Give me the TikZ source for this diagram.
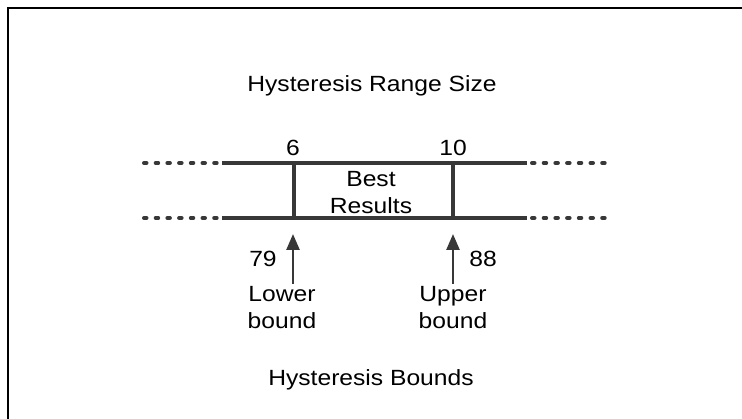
\documentclass[tikz,border=0pt]{standalone}
\usepackage{fontspec}
\setmainfont[FakeStretch=1.12]{Liberation Sans}
\usepackage{tikz}
\usetikzlibrary{arrows.meta}

\begin{document}
\begin{tikzpicture}[x=1pt,y=-1pt]
    \tikzstyle{txt} = [inner sep=0pt, align=center, font=\fontsize{22}{27}\selectfont]
    \tikzstyle{rangeline} = [line width=4pt, draw=black!78]
    \tikzstyle{dotline} = [line width=4pt, draw=black!78, line cap=round, dash pattern=on 2.5pt off 9.2pt]
    \tikzstyle{boundarrow} = [line width=2.6pt, draw=black!78, -{Triangle[length=16pt,width=13pt]}]

    \useasboundingbox (0,0) rectangle (742,419);

    % Frame
    \draw[line width=2pt] (8,419) -- (8,8) -- (742,8);

    % Range lines
    \coordinate (tl) at (222,163);
    \coordinate (tr) at (527,163);
    \coordinate (bl) at (222,218);
    \coordinate (br) at (527,218);
    \draw[rangeline] (tl) -- (tr);
    \draw[rangeline] (bl) -- (br);
    \draw[dotline] (tl) ++(-78,0) -- ++(74,0);
    \draw[dotline] (bl) ++(-78,0) -- ++(74,0);
    \draw[dotline] (tr) ++(5,0) -- ++(80,0);
    \draw[dotline] (br) ++(5,0) -- ++(80,0);

    % Best range
    \coordinate (lo-top) at (294,163);
    \coordinate (lo-bot) at (294,218);
    \coordinate (hi-top) at (453,163);
    \coordinate (hi-bot) at (453,218);
    \draw[rangeline] (lo-top) -- (lo-bot);
    \draw[rangeline] (hi-top) -- (hi-bot);

    % Labels
    \node[txt] (title) at (372,86) {Hysteresis Range Size};
    \node[txt] (six) at (293,148) {6};
    \node[txt] (ten) at (453,148) {10};
    \node[txt] (best) at (371,193) {Best\\Results};
    \node[txt] (n79) at (263,259) {79};
    \node[txt] (n88) at (483,259) {88};
    \node[txt] (lower) at (282,308) {Lower\\bound};
    \node[txt] (upper) at (453,308) {Upper\\bound};
    \node[txt] (bounds) at (371,380) {Hysteresis Bounds};

    % Bound arrows
    \coordinate (lo-tail) at (293,284);
    \coordinate (lo-tip) at (293,234);
    \coordinate (hi-tail) at (453,284);
    \coordinate (hi-tip) at (453,234);
    \draw[boundarrow] (lo-tail) -- (lo-tip);
    \draw[boundarrow] (hi-tail) -- (hi-tip);
\end{tikzpicture}
\end{document}
